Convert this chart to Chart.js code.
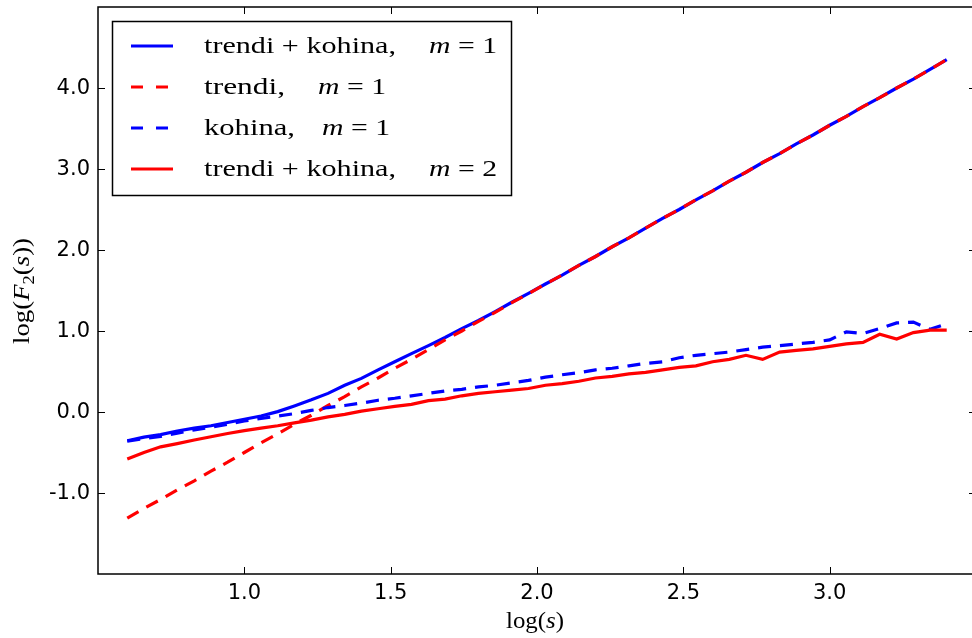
<!DOCTYPE html>
<html>
<head>
<meta charset="utf-8">
<script src="https://cdn.jsdelivr.net/npm/chart.js@4.4.1/dist/chart.umd.min.js"></script>
<style>
  html, body { margin: 0; padding: 0; background: #fff; overflow: hidden; }
  canvas { display: block; }
</style>
</head>
<body>
<canvas id="c" width="980" height="638"></canvas>
<script>
// log(s) sample points
const logS = [
  0.600, 0.657, 0.714, 0.771, 0.829, 0.886, 0.943, 1.000, 1.057, 1.114,
  1.171, 1.229, 1.286, 1.343, 1.400, 1.457, 1.514, 1.571, 1.629, 1.686,
  1.743, 1.800, 1.857, 1.914, 1.971, 2.029, 2.086, 2.143, 2.200, 2.257,
  2.314, 2.371, 2.429, 2.486, 2.543, 2.600, 2.657, 2.714, 2.771, 2.829,
  2.886, 2.943, 3.000, 3.057, 3.114, 3.171, 3.229, 3.286, 3.343, 3.400
];

// trendi + kohina, m = 1
const trendKohinaM1 = [
  -0.355, -0.31, -0.28, -0.235, -0.20, -0.17, -0.13, -0.09, -0.05, 0.005,
  0.075, 0.15, 0.23, 0.33, 0.415, 0.52, 0.62, 0.72, 0.82, 0.92,
  1.03, 1.13, 1.24, 1.355, 1.465, 1.58, 1.69, 1.81, 1.92, 2.04,
  2.15, 2.27, 2.39, 2.50, 2.62, 2.73, 2.85, 2.96, 3.08, 3.19,
  3.31, 3.42, 3.54, 3.65, 3.77, 3.88, 4.00, 4.11, 4.23, 4.35
];

// trendi, m = 1
const trendiM1 = [
  -1.31, -1.19, -1.08, -0.96, -0.85, -0.73, -0.62, -0.50, -0.38, -0.27,
  -0.15, -0.04, 0.08, 0.19, 0.31, 0.42, 0.54, 0.65, 0.77, 0.89,
  1.00, 1.12, 1.23, 1.35, 1.46, 1.58, 1.69, 1.81, 1.92, 2.04,
  2.15, 2.27, 2.39, 2.50, 2.62, 2.73, 2.85, 2.96, 3.08, 3.19,
  3.31, 3.42, 3.54, 3.65, 3.77, 3.88, 4.00, 4.11, 4.23, 4.35
];

// kohina, m = 1
const kohinaM1 = [
  -0.36, -0.33, -0.30, -0.26, -0.22, -0.19, -0.15, -0.11, -0.08, -0.05,
  -0.02, 0.02, 0.055, 0.08, 0.11, 0.145, 0.17, 0.20, 0.23, 0.26,
  0.28, 0.31, 0.33, 0.36, 0.39, 0.43, 0.46, 0.485, 0.52, 0.54,
  0.57, 0.60, 0.62, 0.67, 0.70, 0.72, 0.74, 0.77, 0.80, 0.82,
  0.84, 0.86, 0.89, 0.99, 0.97, 1.03, 1.10, 1.11, 1.02, 1.09
];

// trendi + kohina, m = 2
const trendKohinaM2 = [
  -0.58, -0.50, -0.43, -0.39, -0.345, -0.305, -0.265, -0.23, -0.20, -0.17,
  -0.135, -0.10, -0.06, -0.03, 0.01, 0.04, 0.07, 0.095, 0.14, 0.16,
  0.20, 0.23, 0.25, 0.27, 0.29, 0.33, 0.35, 0.38, 0.42, 0.44,
  0.47, 0.49, 0.52, 0.55, 0.57, 0.62, 0.65, 0.70, 0.65, 0.74,
  0.76, 0.78, 0.81, 0.84, 0.86, 0.96, 0.90, 0.98, 1.01, 1.01
];

// axis ticks
const xTicks = [1.0, 1.5, 2.0, 2.5, 3.0];
const xTickLabels = ['1.0', '1.5', '2.0', '2.5', '3.0'];
const yTicks = [-1, 0, 1, 2, 3, 4];
const yTickLabels = ['-1.0', '0.0', '1.0', '2.0', '3.0', '4.0'];

// legend entries
const legendRows = [
  { label: 'trendi + kohina,', m: '1', color: '#0000ff', dash: false },
  { label: 'trendi,', m: '1', color: '#ff0000', dash: true },
  { label: 'kohina,', m: '1', color: '#0000ff', dash: true },
  { label: 'trendi + kohina,', m: '2', color: '#ff0000', dash: false }
];

const pts = arr => logS.map((x, i) => ({ x, y: arr[i] }));
const DASH = [13, 9];
const LW = 3.2;
const SERIF = '"Liberation Serif", "DejaVu Serif", serif';

function partFont(p, size) {
  const s = p.sub ? Math.round(size * 0.7) : size;
  return (p.it ? 'italic ' : '') + s + 'px ' + SERIF;
}
function richWidth(ctx, parts, size) {
  let w = 0;
  parts.forEach(p => { ctx.font = partFont(p, size); w += ctx.measureText(p.t).width; });
  return w;
}
// draws mixed upright/italic/subscript text, stretched to a given width
function drawRich(ctx, parts, x, y, size, target) {
  const nat = richWidth(ctx, parts, size);
  const sx = target ? target / nat : 1;
  ctx.save();
  ctx.translate(x, y);
  ctx.scale(sx, 1);
  ctx.textBaseline = 'alphabetic';
  ctx.textAlign = 'left';
  let cx = 0;
  parts.forEach(p => {
    ctx.font = partFont(p, size);
    ctx.fillText(p.t, cx, p.sub ? size * 0.22 : 0);
    cx += ctx.measureText(p.t).width;
  });
  ctx.restore();
}

const decorations = {
  id: 'decorations',
  afterDatasetsDraw(chart) {
    const { ctx, chartArea: a, scales: { x, y } } = chart;
    ctx.save();
    ctx.strokeStyle = '#000';
    ctx.fillStyle = '#000';

    // inward ticks on all four sides
    ctx.lineWidth = 1;
    const seg = (x1, y1, x2, y2) => { ctx.beginPath(); ctx.moveTo(x1, y1); ctx.lineTo(x2, y2); ctx.stroke(); };
    xTicks.forEach(v => {
      const px = Math.round(x.getPixelForValue(v)) + 0.5;
      seg(px, a.bottom, px, a.bottom - 7);
      seg(px, a.top, px, a.top + 7);
    });
    yTicks.forEach(v => {
      const py = Math.round(y.getPixelForValue(v)) + 0.5;
      seg(a.left, py, a.left + 7, py);
      seg(a.right, py, a.right - 7, py);
    });

    // frame
    ctx.lineWidth = 1.5;
    ctx.strokeRect(a.left, a.top, a.right - a.left, a.bottom - a.top);

    // tick labels
    ctx.font = '21px "DejaVu Sans", sans-serif';
    ctx.textAlign = 'center';
    ctx.textBaseline = 'middle';
    xTicks.forEach((v, i) => ctx.fillText(xTickLabels[i], x.getPixelForValue(v), a.bottom + 20));
    ctx.textAlign = 'right';
    yTicks.forEach((v, i) => ctx.fillText(yTickLabels[i], a.left - 8, y.getPixelForValue(v) + 1));

    // axis titles
    const xTitle = [{ t: 'log(' }, { t: 's', it: true }, { t: ')' }];
    drawRich(ctx, xTitle, (a.left + a.right - 4) / 2 - 29, 628, 23, 58);
    const yTitle = [{ t: 'log(' }, { t: 'F', it: true }, { t: '2', sub: true }, { t: '(' }, { t: 's', it: true }, { t: '))' }];
    ctx.save();
    ctx.translate(29, 291);
    ctx.rotate(-Math.PI / 2);
    drawRich(ctx, yTitle, -53, 0, 23, 106);
    ctx.restore();

    // legend
    const L = { x: 112, y: 21, w: 399, h: 174 };
    ctx.fillStyle = '#fff';
    ctx.fillRect(L.x, L.y, L.w, L.h);
    ctx.lineWidth = 1.5;
    ctx.strokeStyle = '#000';
    ctx.strokeRect(L.x + 0.5, L.y + 0.5, L.w, L.h);
    const rowY = [46, 87, 128, 169];
    legendRows.forEach((r, i) => {
      const ry = rowY[i];
      ctx.strokeStyle = r.color;
      ctx.lineWidth = LW;
      ctx.setLineDash(r.dash ? [12, 13] : []);
      ctx.beginPath();
      ctx.moveTo(131, ry);
      ctx.lineTo(r.dash ? 169 : 173, ry);
      ctx.stroke();
      ctx.setLineDash([]);
      ctx.fillStyle = '#000';
      const labelW = r.label === 'trendi,' ? 81 : (r.label === 'kohina,' ? 91 : 192);
      drawRich(ctx, [{ t: r.label }], 204, ry + 7, 23, labelW);
      const mx = r.label.length > 8 ? 429 : (r.label === 'trendi,' ? 318 : 322);
      drawRich(ctx, [{ t: 'm', it: true }, { t: ' = ' + r.m }], mx, ry + 7, 23, 68);
    });
    ctx.restore();
  }
};

new Chart(document.getElementById('c'), {
  type: 'line',
  data: {
    datasets: [
      { data: pts(trendKohinaM1), borderColor: '#0000ff', borderWidth: LW, order: 4 },
      { data: pts(trendiM1), borderColor: '#ff0000', borderWidth: LW, borderDash: DASH, order: 3 },
      { data: pts(kohinaM1), borderColor: '#0000ff', borderWidth: LW, borderDash: DASH, order: 2 },
      { data: pts(trendKohinaM2), borderColor: '#ff0000', borderWidth: LW, order: 1 }
    ]
  },
  options: {
    responsive: false,
    animation: false,
    devicePixelRatio: 1,
    layout: { padding: { left: 98, top: 7, right: 4, bottom: 64 } },
    elements: { point: { radius: 0 }, line: { tension: 0, fill: false, borderCapStyle: 'butt' } },
    plugins: { legend: { display: false }, tooltip: { enabled: false } },
    scales: {
      x: { type: 'linear', min: 0.5, max: 3.5, display: false },
      y: { type: 'linear', min: -2, max: 5, display: false }
    }
  },
  plugins: [decorations]
});
</script>
</body>
</html>
